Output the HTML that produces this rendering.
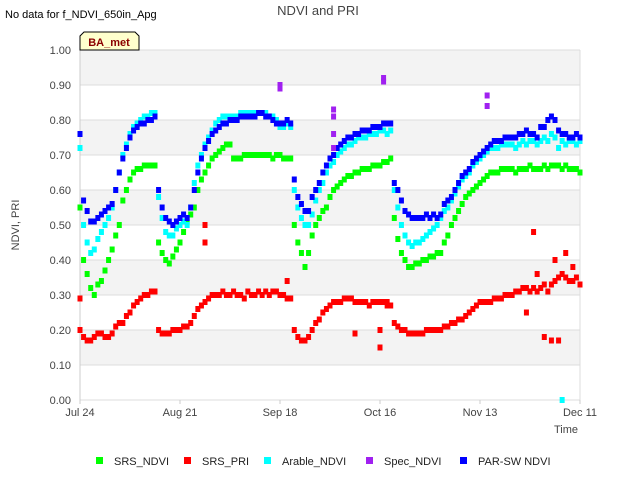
<!DOCTYPE html>
<html><head><meta charset="utf-8"><style>
body{margin:0;background:#fff;}
svg{display:block;font-family:"Liberation Sans","DejaVu Sans",sans-serif;}
</style></head><body>
<svg id="chart" width="640" height="480" viewBox="0 0 640 480">
<text x="5" y="18" font-size="11" fill="#000">No data for f_NDVI_650in_Apg</text>
<text x="318" y="15" font-size="13" fill="#444" text-anchor="middle">NDVI and PRI</text>
<g id="bands"></g>
<g id="grid"></g>
<g id="yticks"></g>
<g id="xticks"></g>
<text x="19" y="225" font-size="11" fill="#444" text-anchor="middle" transform="rotate(-90 19 225)">NDVI, PRI</text>
<text x="566" y="433" font-size="11" fill="#444" text-anchor="middle">Time</text>
<g id="marks"></g>
<g>
<path d="M80,50 L80,36 L84,32 L135,32 L139,36 L139,50 Z" fill="#ffffcc" stroke="#000" stroke-width="1"/>
<text x="109" y="46" font-size="11" font-weight="bold" fill="#8b0000" text-anchor="middle">BA_met</text>
</g>
<g id="legend"></g>
</svg>
<script>
const srsNdvi=[0.55,0.40,0.36,0.32,0.30,0.33,0.34,0.37,0.40,0.43,0.47,0.50,0.57,0.60,0.63,0.65,0.66,0.66,0.67,0.67,0.67,0.67,
0.45,0.42,0.40,0.39,0.41,0.43,0.45,0.48,0.51,0.53,0.55,0.60,0.63,0.65,0.67,0.69,0.70,0.71,0.72,0.73,0.73,0.69,0.69,0.69,0.70,0.70,0.70,0.70,0.70,0.70,0.70,0.70,0.69,0.70,0.70,0.69,0.69,0.69,
0.50,0.45,0.42,0.38,0.42,0.47,0.50,0.52,0.54,0.55,0.58,0.60,0.61,0.62,0.63,0.64,0.64,0.65,0.65,0.66,0.66,0.66,0.67,0.67,0.67,0.68,0.68,0.69,
0.52,0.46,0.42,0.40,0.38,0.38,0.39,0.39,0.40,0.40,0.41,0.41,0.42,0.42,0.45,0.47,0.50,0.52,0.54,0.56,0.58,0.59,0.60,0.61,0.62,0.63,0.64,0.65,0.65,0.65,0.66,0.66,0.66,0.66,0.65,0.66,0.66,0.66,0.67,0.66,0.66,0.66,0.67,0.66,0.67,0.67,0.67,0.66,0.67,0.66,0.66,0.66,0.65];
const parNdvi=[0.76,0.57,0.54,0.51,0.51,0.52,0.53,0.54,0.55,0.56,0.60,0.65,0.69,0.72,0.75,0.77,0.78,0.79,0.79,0.80,0.80,0.81,
0.60,0.55,0.52,0.51,0.50,0.51,0.52,0.53,0.52,0.55,0.60,0.65,0.69,0.72,0.74,0.76,0.77,0.78,0.79,0.79,0.80,0.80,0.80,0.81,0.81,0.81,0.81,0.81,0.82,0.82,0.81,0.81,0.80,0.79,0.79,0.79,0.80,0.79,
0.63,0.58,0.56,0.54,0.54,0.58,0.60,0.62,0.65,0.67,0.69,0.70,0.72,0.73,0.74,0.75,0.75,0.76,0.76,0.77,0.77,0.77,0.78,0.78,0.78,0.79,0.79,0.79,
0.62,0.60,0.57,0.54,0.53,0.52,0.52,0.52,0.52,0.53,0.52,0.53,0.52,0.53,0.56,0.57,0.58,0.60,0.62,0.64,0.65,0.66,0.68,0.69,0.70,0.71,0.72,0.73,0.74,0.74,0.74,0.75,0.75,0.75,0.75,0.76,0.76,0.77,0.76,0.76,0.75,0.78,0.78,0.80,0.81,0.80,0.77,0.76,0.76,0.75,0.75,0.76,0.75];
const arableNdvi=[0.72,0.50,0.45,0.42,0.43,0.46,0.48,0.50,0.52,0.55,0.60,0.65,0.70,0.73,0.76,0.78,0.79,0.80,0.81,0.81,0.82,0.82,
0.58,0.52,0.48,0.47,0.47,0.49,0.50,0.51,0.50,0.55,0.62,0.67,0.70,0.73,0.75,0.77,0.79,0.80,0.81,0.81,0.81,0.81,0.81,0.82,0.82,0.82,0.82,0.82,0.82,0.82,0.82,0.81,0.81,0.80,0.78,0.78,0.79,0.78,
0.60,0.55,0.52,0.50,0.50,0.53,0.57,0.60,0.62,0.65,0.67,0.68,0.70,0.71,0.72,0.73,0.73,0.74,0.75,0.75,0.75,0.76,0.76,0.76,0.77,0.77,0.76,0.77,
0.60,0.55,0.50,0.47,0.45,0.44,0.45,0.45,0.46,0.47,0.48,0.49,0.50,0.52,0.54,0.55,0.57,0.59,0.61,0.63,0.64,0.65,0.67,0.68,0.69,0.70,0.71,0.72,0.72,0.72,0.73,0.73,0.73,0.73,0.72,0.73,0.74,0.73,0.74,0.74,0.73,0.74,0.75,0.74,0.76,0.75,0.72,0.74,0.73,0.74,0.74,0.73,0.74];
const srsPri=[0.20,0.18,0.17,0.17,0.18,0.19,0.19,0.18,0.18,0.19,0.21,0.22,0.22,0.24,0.25,0.27,0.28,0.29,0.30,0.30,0.31,0.31,
0.20,0.19,0.19,0.19,0.20,0.20,0.20,0.21,0.21,0.22,0.24,0.26,0.27,0.28,0.29,0.30,0.30,0.30,0.31,0.30,0.30,0.31,0.30,0.30,0.29,0.31,0.30,0.30,0.31,0.30,0.31,0.30,0.31,0.31,0.30,0.30,0.29,0.29,
0.20,0.18,0.17,0.17,0.18,0.20,0.22,0.23,0.25,0.26,0.27,0.28,0.28,0.28,0.29,0.29,0.29,0.28,0.28,0.28,0.28,0.27,0.28,0.28,0.28,0.28,0.27,0.27,
0.22,0.21,0.20,0.20,0.19,0.19,0.19,0.19,0.19,0.20,0.20,0.20,0.20,0.20,0.21,0.21,0.22,0.22,0.23,0.23,0.24,0.25,0.26,0.27,0.28,0.28,0.28,0.28,0.29,0.29,0.29,0.30,0.30,0.30,0.31,0.31,0.32,0.32,0.31,0.32,0.31,0.32,0.33,0.31,0.33,0.34,0.35,0.36,0.35,0.34,0.34,0.35,0.33];
const priOutlierDays=[0,35,35,58,77,84,84,86,127,130,132,134,133,136,138,125,128];
const priOutlierVals=[0.29,0.50,0.45,0.34,0.19,0.15,0.20,0.28,0.48,0.18,0.17,0.17,0.40,0.42,0.38,0.25,0.36];
const arableOutlierDays=[135];
const arableOutlierVals=[0.00];
const specDays=[56,56,71,71,71,71,85,85,114,114];
const specVals=[0.90,0.89,0.83,0.81,0.76,0.72,0.92,0.91,0.87,0.84];
const yTicks=[0,0.1,0.2,0.3,0.4,0.5,0.6,0.7,0.8,0.9,1.0];
const xTickDays=[0,28,56,84,112,140];
const xTickLabels=["Jul 24","Aug 21","Sep 18","Oct 16","Nov 13","Dec 11"];
const legendNames=["SRS_NDVI","SRS_PRI","Arable_NDVI","Spec_NDVI","PAR-SW NDVI"];
const legendColors=["#00ff00","#ff0000","#00ffff","#a020f0","#0000ff"];

const NS="http://www.w3.org/2000/svg";
const X0=80,X1=580,Y0=400,Y1=50,DMAX=140;
const xs=d=>X0+(d/DMAX)*(X1-X0);
const ys=v=>Y0-(v)*(Y0-Y1);
function mk(tag,attrs,parent){const e=document.createElementNS(NS,tag);for(const k in attrs)e.setAttribute(k,attrs[k]);parent.appendChild(e);return e;}
const bands=document.getElementById('bands'),grid=document.getElementById('grid'),yt=document.getElementById('yticks'),xt=document.getElementById('xticks'),marks=document.getElementById('marks'),leg=document.getElementById('legend');
mk('rect',{x:X0,y:Y1,width:X1-X0,height:Y0-Y1,fill:'#fff'},bands);
for(let i=0;i<yTicks.length-1;i++){
  if(i%2===1){const r=mk('rect',{x:X0,y:ys(yTicks[i+1]),width:X1-X0,height:ys(yTicks[i])-ys(yTicks[i+1]),fill:'#f3f3f3'},bands);
  
  }
}
yTicks.forEach(v=>{
  const l=mk('line',{x1:X0,x2:X1,y1:ys(v),y2:ys(v),stroke:'#dcdcdc','stroke-width':1},grid);
  
  
  const t=mk('text',{x:71,y:ys(v)+4,'font-size':11,fill:'#444','text-anchor':'end'},yt);
  
  
  t.textContent=v.toFixed(2);
});
mk('line',{x1:X0,x2:X0,y1:Y1,y2:Y0,stroke:'#ccc'},grid);
mk('line',{x1:X1,x2:X1,y1:Y1,y2:Y0,stroke:'#ddd'},grid);
xTickDays.forEach((d,i)=>{
  const l=mk('line',{x1:xs(d),x2:xs(d),y1:Y0,y2:Y0+4,stroke:'#ccc'},xt);
  
  
  const t=mk('text',{x:xs(d),y:Y0+16,'font-size':11,fill:'#444','text-anchor':'middle'},xt);
  
  
  t.textContent=xTickLabels[i];
});
function pt(d,v,color,name){
  const r=mk('rect',{x:xs(d)-2.5,y:ys(v)-3,width:5,height:6,fill:color},marks);
  
  
}
srsPri.forEach((v,d)=>{if(v!=null)pt(d,v,'#ff0000','srs-pri-point');});
priOutlierDays.forEach((d,i)=>pt(d,priOutlierVals[i],'#ff0000','srs-pri-point'));
srsNdvi.forEach((v,d)=>{if(v!=null)pt(d,v,'#00ff00','srs-ndvi-point');});
arableNdvi.forEach((v,d)=>{if(v!=null)pt(d,v,'#00ffff','arable-ndvi-point');});
arableOutlierDays.forEach((d,i)=>pt(d,arableOutlierVals[i],'#00ffff','arable-ndvi-point'));
parNdvi.forEach((v,d)=>{if(v!=null)pt(d,v,'#0000ff','par-sw-ndvi-point');});
specDays.forEach((d,i)=>pt(d,specVals[i],'#a020f0','spec-ndvi-point'));
const legX=[96,184,264,366,460];
legendNames.forEach((n,i)=>{
  const g=mk('g',{},leg);
  
  
  mk('rect',{x:legX[i],y:457,width:7,height:7,fill:legendColors[i]},g);
  const t=mk('text',{x:legX[i]+18,y:465,'font-size':11,fill:'#222'},g);
  t.textContent=n;
});
</script>
</body></html>
